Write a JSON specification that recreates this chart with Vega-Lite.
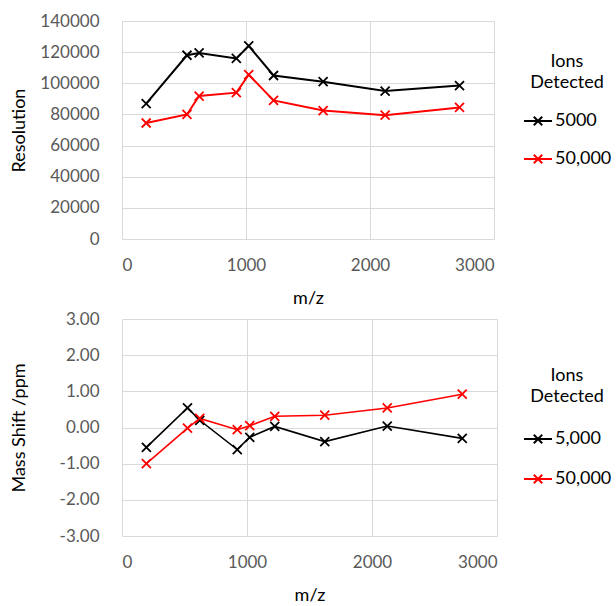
{
  "$schema": "https://vega.github.io/schema/vega-lite/v6.json",
  "padding": {"left": 10, "top": 12, "right": 0, "bottom": 0},
  "background": "white",
  "config": {
    "font": "Lato",
    "view": {"stroke": null},
    "axis": {"domain": false, "ticks": false, "tickSize": 0, "gridColor": "#d9d9d9", "gridWidth": 1, "labelColor": "#595959", "labelFontSize": 17, "titleFontSize": 18, "titleFontWeight": "normal", "titleColor": "#000000"},
    "axisY": {"minExtent": 82, "maxExtent": 82, "labelPadding": 23, "titlePadding": 12},
    "axisX": {"labelPadding": 18, "titlePadding": 16},
    "legend": {"titleAnchor": "middle", "titleAlign": "center", "titleFontSize": 18, "titleFontWeight": "normal", "titleColor": "#000000", "titleLineHeight": 21, "titlePadding": 14, "labelFontSize": 18, "labelColor": "#000000", "labelOffset": 2, "symbolType": "M-1,0L1,0M-0.3,-0.3L0.3,0.3M-0.3,0.3L0.3,-0.3", "symbolSize": 784, "symbolStrokeWidth": 2, "symbolFillColor": "transparent", "rowPadding": 14}
  },
  "datasets": {
    "res": [
      {"mz": 195, "resolution": 87000, "ions": "5000"},
      {"mz": 524, "resolution": 118000, "ions": "5000"},
      {"mz": 622, "resolution": 119500, "ions": "5000"},
      {"mz": 922, "resolution": 116000, "ions": "5000"},
      {"mz": 1022, "resolution": 124000, "ions": "5000"},
      {"mz": 1222, "resolution": 105000, "ions": "5000"},
      {"mz": 1622, "resolution": 101000, "ions": "5000"},
      {"mz": 2122, "resolution": 95000, "ions": "5000"},
      {"mz": 2722, "resolution": 98500, "ions": "5000"},
      {"mz": 195, "resolution": 74500, "ions": "50,000"},
      {"mz": 524, "resolution": 80000, "ions": "50,000"},
      {"mz": 622, "resolution": 91800, "ions": "50,000"},
      {"mz": 922, "resolution": 94000, "ions": "50,000"},
      {"mz": 1022, "resolution": 105500, "ions": "50,000"},
      {"mz": 1222, "resolution": 89000, "ions": "50,000"},
      {"mz": 1622, "resolution": 82500, "ions": "50,000"},
      {"mz": 2122, "resolution": 79500, "ions": "50,000"},
      {"mz": 2722, "resolution": 84500, "ions": "50,000"}
    ],
    "shift": [
      {"mz": 195, "shift": -0.55, "ions": "5,000"},
      {"mz": 524, "shift": 0.54, "ions": "5,000"},
      {"mz": 622, "shift": 0.2, "ions": "5,000"},
      {"mz": 922, "shift": -0.61, "ions": "5,000"},
      {"mz": 1022, "shift": -0.27, "ions": "5,000"},
      {"mz": 1222, "shift": 0.03, "ions": "5,000"},
      {"mz": 1622, "shift": -0.39, "ions": "5,000"},
      {"mz": 2122, "shift": 0.04, "ions": "5,000"},
      {"mz": 2722, "shift": -0.3, "ions": "5,000"},
      {"mz": 195, "shift": -1.0, "ions": "50,000"},
      {"mz": 524, "shift": -0.02, "ions": "50,000"},
      {"mz": 622, "shift": 0.25, "ions": "50,000"},
      {"mz": 922, "shift": -0.06, "ions": "50,000"},
      {"mz": 1022, "shift": 0.05, "ions": "50,000"},
      {"mz": 1222, "shift": 0.31, "ions": "50,000"},
      {"mz": 1622, "shift": 0.34, "ions": "50,000"},
      {"mz": 2122, "shift": 0.54, "ions": "50,000"},
      {"mz": 2722, "shift": 0.92, "ions": "50,000"}
    ]
  },
  "spacing": 3,
  "resolve": {"scale": {"color": "independent"}, "legend": {"color": "independent"}},
  "vconcat": [
    {
      "width": 372,
      "height": 218,
      "data": {"name": "res"},
      "encoding": {
        "x": {"field": "mz", "type": "quantitative", "scale": {"domain": [0, 3000], "nice": false}, "axis": {"values": [0, 1000, 2000, 3000], "format": "d", "title": "m/z"}},
        "y": {"field": "resolution", "type": "quantitative", "scale": {"domain": [0, 140000], "nice": false}, "axis": {"values": [0, 20000, 40000, 60000, 80000, 100000, 120000, 140000], "format": "d", "title": "Resolution"}},
        "color": {"field": "ions", "type": "nominal", "scale": {"domain": ["5000", "50,000"], "range": ["#000000", "#ff0000"]}, "legend": {"title": ["Ions", "Detected"], "orient": "none", "legendX": 401, "legendY": 32}}
      },
      "layer": [
        {"mark": {"type": "line", "strokeWidth": 2}},
        {"mark": {"type": "point", "shape": "M-1,-1L1,1M-1,1L1,-1", "filled": false, "size": 81, "strokeWidth": 1.8, "opacity": 1}}
      ]
    },
    {
      "width": 375,
      "height": 217,
      "data": {"name": "shift"},
      "encoding": {
        "x": {"field": "mz", "type": "quantitative", "scale": {"domain": [0, 3000], "nice": false}, "axis": {"values": [0, 1000, 2000, 3000], "format": "d", "title": "m/z"}},
        "y": {"field": "shift", "type": "quantitative", "scale": {"domain": [-3, 3], "nice": false}, "axis": {"values": [-3, -2, -1, 0, 1, 2, 3], "labelExpr": "replace(format(datum.value, '.2f'), '\u2212', '-')", "title": "Mass Shift /ppm"}},
        "color": {"field": "ions", "type": "nominal", "scale": {"domain": ["5,000", "50,000"], "range": ["#000000", "#ff0000"]}, "legend": {"title": ["Ions", "Detected"], "orient": "none", "legendX": 401, "legendY": 48, "titlePadding": 18, "rowPadding": 16}}
      },
      "layer": [
        {"mark": {"type": "line", "strokeWidth": 1.6}},
        {"mark": {"type": "point", "shape": "M-1,-1L1,1M-1,1L1,-1", "filled": false, "size": 81, "strokeWidth": 1.8, "opacity": 1}}
      ]
    }
  ]
}
